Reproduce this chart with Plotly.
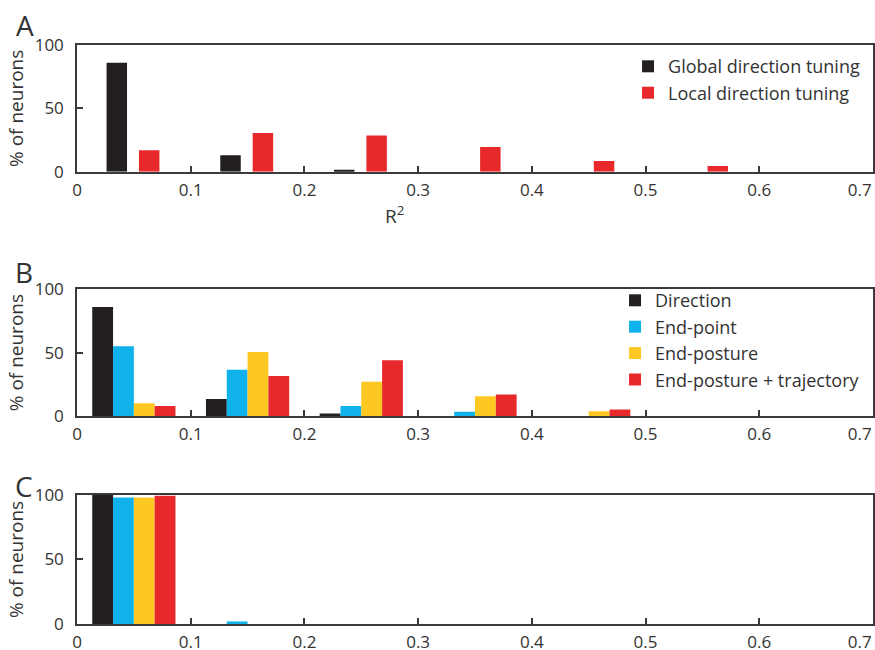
import plotly.graph_objects as go

# ---------------- data ----------------
bin_centers = [0.05, 0.15, 0.25, 0.35, 0.45, 0.55, 0.65]

# Panel A
a_global = [86, 13, 1.5, 0, 0, 0, 0]
a_local = [17, 30.5, 28.5, 19.5, 8.5, 4.5, 0]

# Panel B
b_direction = [86, 13.5, 2, 0, 0, 0, 0]
b_endpoint = [55, 36.5, 7.8, 3.4, 0, 0, 0]
b_endposture = [10, 50.5, 27, 15.5, 3.8, 0, 0]
b_endpost_traj = [7.8, 31.5, 44, 17, 5.2, 0, 0]

# Panel C
c_direction = [100, 0, 0, 0, 0, 0, 0]
c_endpoint = [98, 2, 0, 0, 0, 0, 0]
c_endposture = [98, 0, 0, 0, 0, 0, 0]
c_endpost_traj = [99.5, 0, 0, 0, 0, 0, 0]

x_ticks = [0, 0.1, 0.2, 0.3, 0.4, 0.5, 0.6, 0.7]
x_ticklabels = ["0", "0.1", "0.2", "0.3", "0.4", "0.5", "0.6", "0.7"]
y_ticks = [0, 50, 100]

# ---------------- styles ----------------
BLACK = "#231f20"
BLUE = "#0fb2ea"
YELLOW = "#fec823"
RED = "#e8292b"
AXIS = "#3a3a3a"
TXT = "#333333"
FONT = "Open Sans"

# last tick label padded so it stays visible at the right edge (as in the reference)
x_ticktext = x_ticklabels[:-1] + [x_ticklabels[-1] + "\u00a0" * 6]

fig = go.Figure()

W2 = 0.018
fig.add_trace(go.Bar(x=bin_centers, y=a_global, name="Global direction tuning",
                     marker=dict(color=BLACK, line_width=0), width=W2, offset=-0.024,
                     xaxis="x", yaxis="y", legend="legend"))
fig.add_trace(go.Bar(x=bin_centers, y=a_local, name="Local direction tuning",
                     marker=dict(color=RED, line_width=0), width=W2, offset=0.0045,
                     xaxis="x", yaxis="y", legend="legend"))

W4 = 0.0183
offs = [-0.0366, -0.0183, 0.0, 0.0183]
names = ["Direction", "End-point", "End-posture", "End-posture + trajectory"]
cols = [BLACK, BLUE, YELLOW, RED]
for vals, nm, c, o in zip([b_direction, b_endpoint, b_endposture, b_endpost_traj], names, cols, offs):
    fig.add_trace(go.Bar(x=bin_centers, y=vals, name=nm,
                         marker=dict(color=c, line_width=0), width=W4, offset=o,
                         xaxis="x2", yaxis="y2", legend="legend2"))
for vals, nm, c, o in zip([c_direction, c_endpoint, c_endposture, c_endpost_traj], names, cols, offs):
    fig.add_trace(go.Bar(x=bin_centers, y=vals, name=nm, showlegend=False,
                         marker=dict(color=c, line_width=0), width=W4, offset=o,
                         xaxis="x3", yaxis="y3"))

xax = dict(range=[0, 0.7], tickvals=x_ticks, ticktext=x_ticktext, ticks="inside",
           ticklen=6, tickwidth=1.5, tickcolor=AXIS, showline=True, linecolor=AXIS,
           linewidth=1.5, mirror=True, showgrid=False, zeroline=False, automargin=False,
           ticklabeloverflow="allow",
           tickfont=dict(family=FONT, size=17, color=TXT), ticklabelstandoff=2)
yax = dict(range=[0, 100], tickvals=y_ticks, ticks="inside", ticklen=6, tickwidth=1.5,
           tickcolor=AXIS, showline=True, linecolor=AXIS, linewidth=1.5, mirror=True,
           showgrid=False, zeroline=False, automargin=False,
           tickfont=dict(family=FONT, size=17, color=TXT), ticklabelstandoff=8,
           title=dict(text="% of neurons", font=dict(family=FONT, size=19, color=TXT),
                      standoff=6))

fig.update_layout(
    width=875, height=650,
    margin=dict(l=77, r=2, t=0, b=0, autoexpand=False),
    paper_bgcolor="white", plot_bgcolor="white",
    barmode="overlay",
    font=dict(family=FONT, color=TXT),
    xaxis=dict(xax, domain=[0, 1], anchor="y"),
    yaxis=dict(yax, domain=[0.7358, 0.9308], anchor="x"),
    xaxis2=dict(xax, domain=[0, 1], anchor="y2"),
    yaxis2=dict(yax, domain=[0.36, 0.555], anchor="x2"),
    xaxis3=dict(xax, domain=[0, 1], anchor="y3"),
    yaxis3=dict(yax, domain=[0.04, 0.2385], anchor="x3"),
    legend=dict(x=0.99, xanchor="right", y=0.926, yanchor="top",
                bgcolor="rgba(0,0,0,0)", font=dict(family=FONT, size=18, color=TXT),
                tracegroupgap=0),
    legend2=dict(x=0.99, xanchor="right", y=0.566, yanchor="top",
                 bgcolor="rgba(0,0,0,0)", font=dict(family=FONT, size=18, color=TXT),
                 tracegroupgap=0),
    annotations=[
        dict(text="A", x=-0.065, y=0.9615, xref="paper", yref="paper", showarrow=False,
             xanchor="center", yanchor="middle", font=dict(family=FONT, size=28, color=TXT)),
        dict(text="B", x=-0.067, y=0.5815, xref="paper", yref="paper", showarrow=False,
             xanchor="center", yanchor="middle", font=dict(family=FONT, size=28, color=TXT)),
        dict(text="C", x=-0.067, y=0.252, xref="paper", yref="paper", showarrow=False,
             xanchor="center", yanchor="middle", font=dict(family=FONT, size=28, color=TXT)),
        dict(text="R<sup>2</sup>", x=0.279, y=0.669, xref="x", yref="paper", showarrow=False,
             xanchor="center", yanchor="middle", font=dict(family=FONT, size=19, color=TXT)),
    ],
)

fig.write_html("out.html", config={"displayModeBar": False},
               post_script="document.body.style.margin='0';")
